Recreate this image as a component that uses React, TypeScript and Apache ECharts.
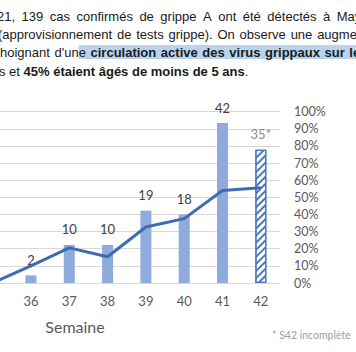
import React, { useEffect, useRef } from "react";
import * as echarts from "echarts";

// ---- data ----
const weeks = ["35", "36", "37", "38", "39", "40", "41", "42"];
const cases = [0, 2, 10, 10, 19, 18, 42, 35];
const caseLabels = ["", "2", "10", "10", "19", "18", "42", "35*"];
const positivity = [0, 0.1, 0.205, 0.153, 0.327, 0.376, 0.54, 0.556];
const incompleteWeekIndex = 7;

// the page is a crop of a wider document: the chart canvas starts left of the window
const SHIFT = 40;

// ---- paragraph text (cropped document) ----
type Run = { t: string; b?: boolean; hl?: boolean };
const paragraph: { x: number; y: number; ws: number; runs: Run[] }[] = [
  { x: -3, y: 16, ws: 2.9, runs: [{ t: "21, 139 cas confirmés de grippe A ont été détectés à May" }] },
  { x: -2, y: 34, ws: 1.2, runs: [{ t: "(approvisionnement de tests grippe). On observe une augme" }] },
  {
    x: 0,
    y: 52,
    ws: 1.0,
    runs: [
      { t: "hoignant d'un" },
      { t: "e ", hl: true },
      { t: "circulation active des virus grippaux sur le", b: true, hl: true },
    ],
  },
  {
    x: -1,
    y: 71,
    ws: 0,
    runs: [{ t: "s et " }, { t: "45% étaient âgés de moins de 5 ans", b: true }, { t: "." }],
  },
];

const DOC_FONT = '"Liberation Sans", Arial, sans-serif';
const DOC_SIZE = 13;
const CHART_FONT = "Lato, 'Open Sans', sans-serif";

function buildParagraph(): any[] {
  const canvas = document.createElement("canvas");
  const ctx = canvas.getContext("2d")!;
  const measure = (s: string, bold?: boolean) => {
    ctx.font = `${bold ? "bold " : ""}${DOC_SIZE}px ${DOC_FONT}`;
    return ctx.measureText(s).width;
  };
  const rects: any[] = [];
  const texts: any[] = [];
  paragraph.forEach((line) => {
    let x = line.x;
    let hlStart: number | null = null;
    line.runs.forEach((run) => {
      if (run.hl && hlStart === null) hlStart = x;
      const tokens = run.t.split(/(\s+)/).filter((s) => s.length > 0);
      tokens.forEach((tok) => {
        if (/^\s+$/.test(tok)) {
          x += measure(tok, run.b) + line.ws * tok.length;
        } else {
          texts.push({
            type: "text",
            x: x + SHIFT,
            y: line.y,
            z: 10,
            style: {
              text: tok,
              fill: "#1a1a1a",
              font: `${run.b ? "bold " : ""}${DOC_SIZE}px ${DOC_FONT}`,
              verticalAlign: "middle",
              align: "left",
            },
          });
          x += measure(tok, run.b);
        }
      });
    });
    if (hlStart !== null) {
      rects.push({
        type: "rect",
        z: 5,
        shape: { x: hlStart + SHIFT, y: line.y - 7, width: 400, height: 14 },
        style: { fill: "#b9d3ec" },
      });
    }
  });
  return [...rects, ...texts];
}

export default function App() {
  const ref = useRef<HTMLDivElement>(null);
  useEffect(() => {
    if (!ref.current) return;
    const chart = echarts.init(ref.current, undefined, { renderer: "svg" });
    const barBlue = "#8faadc";
    const lineBlue = "#3f6cae";
    const option: any = {
      animation: false,
      backgroundColor: "#ffffff",
      grid: { left: SHIFT - 26.5, right: 76, top: 111.7, bottom: 69 },
      xAxis: {
        type: "category",
        data: weeks,
        axisLine: { show: true, lineStyle: { color: "#d9d9d9", width: 1 } },
        axisTick: { show: false },
        axisLabel: { color: "#595959", fontSize: 13, fontFamily: CHART_FONT, margin: 11 },
      },
      yAxis: [
        { type: "value", min: 0, max: 45, show: false, splitLine: { show: false } },
        {
          type: "value",
          min: 0,
          max: 1,
          interval: 0.1,
          position: "right",
          axisLine: { show: false },
          axisTick: { show: false },
          axisLabel: {
            color: "#595959",
            fontSize: 12.5,
            fontFamily: CHART_FONT,
            margin: 14,
            formatter: (v: number) => `${Math.round(v * 100)}%`,
          },
          splitLine: { show: true, lineStyle: { color: "#d9d9d9", width: 1 } },
        },
      ],
      series: [
        {
          type: "bar",
          yAxisIndex: 0,
          barWidth: 11,
          data: cases.map((v, i) =>
            i === incompleteWeekIndex
              ? {
                  value: v,
                  itemStyle: {
                    color: "#ffffff",
                    borderColor: "#4a78bd",
                    borderWidth: 1.2,
                    decal: {
                      symbol: "rect",
                      color: "#4a78bd",
                      dashArrayX: [1, 0],
                      dashArrayY: [2, 3],
                      rotation: -Math.PI / 4,
                    },
                  },
                  label: { color: "#8c8c8c" },
                }
              : { value: v }
          ),
          itemStyle: { color: barBlue },
          label: {
            show: true,
            position: "top",
            distance: 9,
            color: "#404040",
            fontSize: 13,
            fontFamily: CHART_FONT,
            formatter: (p: any) => caseLabels[p.dataIndex],
          },
        },
        {
          type: "line",
          yAxisIndex: 1,
          data: positivity,
          symbol: "none",
          lineStyle: { color: lineBlue, width: 3 },
          itemStyle: { color: lineBlue },
          z: 5,
        },
      ],
      graphic: [
        ...buildParagraph(),
        {
          type: "text",
          x: 75 + SHIFT,
          y: 326,
          style: {
            text: "Semaine",
            fill: "#595959",
            font: `16px ${CHART_FONT}`,
            align: "center",
            verticalAlign: "middle",
          },
        },
        {
          type: "text",
          x: 272 + SHIFT,
          y: 335,
          style: {
            text: "* S42 incomplète",
            fill: "#a0a0a0",
            font: `10.5px ${CHART_FONT}`,
            align: "left",
            verticalAlign: "middle",
          },
        },
      ],
    };
    chart.setOption(option);
    return () => chart.dispose();
  }, []);
  return (
    <div
      ref={ref}
      style={{ position: "absolute", left: -SHIFT, top: 0, width: 356 + SHIFT, height: 352 }}
    />
  );
}
